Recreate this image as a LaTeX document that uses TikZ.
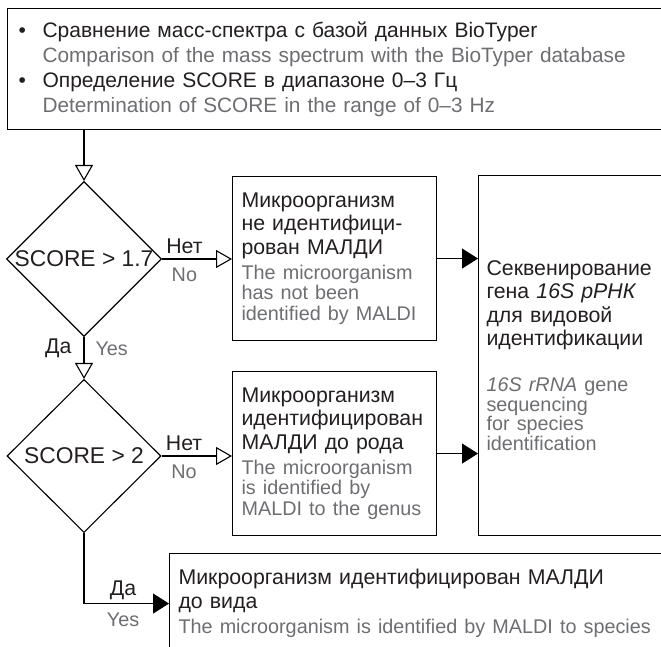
\documentclass[tikz,border=0pt]{standalone}
\usepackage{fontspec}
\setmainfont{Liberation Sans}
\usetikzlibrary{arrows.meta,positioning,shapes.geometric}
\definecolor{rutext}{HTML}{231F20}
\definecolor{entext}{HTML}{6D6E71}
\newcommand{\rusize}{\fontsize{21.3}{23.3}\selectfont}
\newcommand{\ensize}{\fontsize{19.8}{20.3}\selectfont}

\begin{document}
\begin{tikzpicture}[x=1pt,y=-1pt,
  box/.style={draw,line width=1.1pt,rectangle,anchor=north west,align=left,inner ysep=0pt,font=\rusize,text=rutext},
  decision/.style={draw,line width=1.1pt,diamond,aspect=1,inner sep=0pt,minimum width=154pt,minimum height=153pt,font=\fontsize{22.8}{24}\selectfont,text=rutext},
  openarrow/.style={line width=1.1pt,-{Triangle[open,length=16pt,width=18pt,line width=1.1pt]}},
  fullarrow/.style={line width=1.1pt,-{Triangle[length=16pt,width=20pt]}},
  ru/.style={font=\rusize,text=rutext,inner sep=0pt},
  en/.style={font=\ensize,text=entext,inner sep=0pt}]
  \useasboundingbox (0,0) rectangle (661,647);
  \clip (0,0) rectangle (661,647);
  \node[box,minimum width=682pt,minimum height=121pt,text width=660pt,inner xsep=11pt,font=\fontsize{21}{25}\selectfont] (compare) at (7,8)
    {\makebox[24pt][l]{•}Сравнение масс-спектра с базой данных BioTyper\\
     \hspace*{24pt}{\color{entext}\fontsize{20.8}{25}\selectfont Comparison of the mass spectrum with the BioTyper database}\\
     \makebox[24pt][l]{•}Определение SCORE в диапазоне 0–3 Гц\\
     \hspace*{24pt}{\color{entext}\fontsize{20.8}{25}\selectfont Determination of SCORE in the range of 0–3 Hz}};
  \node[decision] (low) at (84,259) {SCORE > 1.7};
  \node[decision] (high) at (84,456) {SCORE > 2};
  \node[box,minimum width=204pt,minimum height=164pt,text width=186pt,inner xsep=9pt] (undet) at (232,176)
    {Микроорганизм\\не идентифици-\\рован МАЛДИ\par\vspace{5pt}
     {\color{entext}\ensize The microorganism\\has not been\\identified by MALDI\par}};
  \node[box,minimum width=204pt,minimum height=164pt,text width=186pt,inner xsep=9pt] (genus) at (232,371)
    {Микроорганизм\\идентифицирован\\МАЛДИ до рода\par\vspace{5pt}
     {\color{entext}\ensize The microorganism\\is identified by\\MALDI to the genus\par}};
  \node[box,minimum width=300pt,minimum height=360pt,text width=284pt,inner xsep=8pt] (seq) at (478,175)
    {Секвенирование\\гена \textit{16S рРНК}\\для видовой\\идентификации\par\vspace{28pt}
     {\color{entext}\fontsize{19.8}{18.4}\selectfont\textit{16S rRNA} gene\\sequencing\\for species\\identification\par}};
  \node[box,minimum width=600pt,minimum height=100pt,text width=582pt,inner xsep=9pt] (species) at (169,553)
    {Микроорганизм идентифицирован МАЛДИ\\до вида\par\vspace{5pt}
     {\color{entext}\ensize The microorganism is identified by MALDI to species\par}};
  \draw[openarrow] (compare.south -| low.north) -- (low.north);
  \draw[openarrow] (low.east) -- (low.east -| undet.west)
    node[ru,pos=0.32,above=5pt] {Нет} node[en,pos=0.32,below=8pt] {No};
  \draw[openarrow] (low.south) -- (high.north)
    node[ru,pos=0.28,left=12pt] {Да} node[en,pos=0.28,right=11pt] {Yes};
  \draw[openarrow] (high.east) -- (high.east -| genus.west)
    node[ru,pos=0.32,above=5pt] {Нет} node[en,pos=0.32,below=8pt] {No};
  \draw[fullarrow] (undet.east) -- (undet.east -| seq.west);
  \draw[fullarrow] (genus.east) -- (genus.east -| seq.west);
  \draw[fullarrow] (high.south) |- (species.west)
    node[ru,pos=0.73,above=3pt] {Да} node[en,pos=0.73,below=9pt] {Yes};
\end{tikzpicture}
\end{document}
